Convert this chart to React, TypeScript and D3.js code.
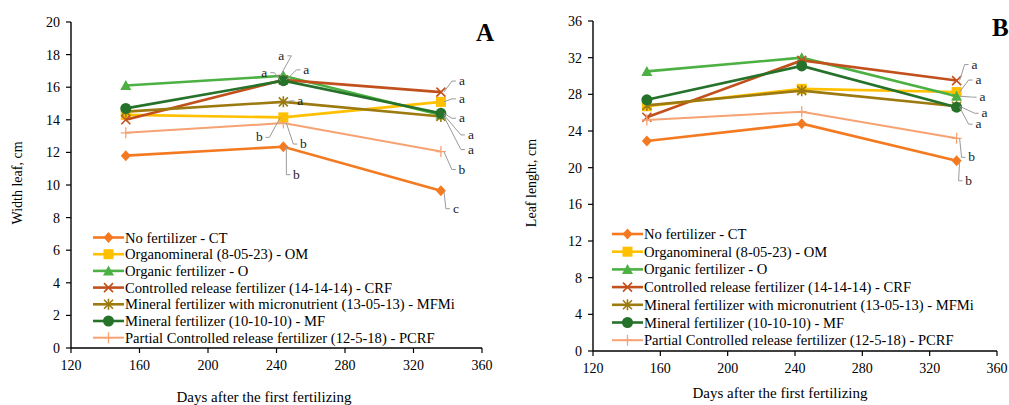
import React from "react";
import * as d3 from "d3";

// ---------- DATA ----------
const days = [152, 244, 336];
const seriesNames = [
  "No fertilizer - CT",
  "Organomineral (8-05-23) - OM",
  "Organic fertilizer - O",
  "Controlled release fertilizer (14-14-14) - CRF",
  "Mineral fertilizer with micronutrient (13-05-13) - MFMi",
  "Mineral fertilizer (10-10-10) - MF",
  "Partial Controlled release fertilizer (12-5-18) - PCRF",
];
const seriesKeys = ["CT", "OM", "O", "CRF", "MFMi", "MF", "PCRF"];

// Panel A: width leaf (cm)
const widthCT = [11.8, 12.35, 9.65];
const widthOM = [14.3, 14.15, 15.1];
const widthO = [16.1, 16.7, 14.3];
const widthCRF = [14.0, 16.45, 15.7];
const widthMFMi = [14.5, 15.1, 14.2];
const widthMF = [14.7, 16.4, 14.4];
const widthPCRF = [13.2, 13.8, 12.05];

// Panel B: leaf length (cm)
const lengthCT = [22.9, 24.8, 20.75];
const lengthOM = [26.7, 28.6, 28.25];
const lengthO = [30.5, 32.0, 27.8];
const lengthCRF = [25.5, 31.7, 29.5];
const lengthMFMi = [26.8, 28.4, 26.7];
const lengthMF = [27.4, 31.1, 26.6];
const lengthPCRF = [25.2, 26.1, 23.2];

const xTicks = [120, 160, 200, 240, 280, 320, 360];
const yTicksA = [0, 2, 4, 6, 8, 10, 12, 14, 16, 18, 20];
const yTicksB = [0, 4, 8, 12, 16, 20, 24, 28, 32, 36];

// significance letters: [seriesIndex, pointIndex, letter]
const lettersA: [number, number, string][] = [
  [2, 1, "a"], [5, 1, "a"], [3, 1, "a"], [4, 1, "a"], [1, 1, "b"], [6, 1, "b"], [0, 1, "b"],
  [3, 2, "a"], [1, 2, "a"], [5, 2, "a"], [2, 2, "a"], [4, 2, "a"], [6, 2, "b"], [0, 2, "c"],
];
const lettersB: [number, number, string][] = [
  [3, 2, "a"], [1, 2, "a"], [2, 2, "a"], [4, 2, "a"], [5, 2, "a"], [6, 2, "b"], [0, 2, "b"],
];

// ---------- STYLE / LAYOUT ----------
const colors = ["#F47A22", "#FFC000", "#4CB043", "#C2501C", "#9C7A10", "#26722A", "#F6A272"];
const FONT = "'Liberation Serif', 'Times New Roman', serif";

// label offsets (px) relative to the annotated point, per letter entry
const offsA: [number, number][] = [
  [-2, -20], [-19, -8], [23, -10], [17, -1], [-24, 20], [20, 21], [13, 28],
  [21, -11], [21, -3], [21, 5], [30, 20], [30, 33], [21, 18], [15, 18],
];
const offsB: [number, number][] = [
  [18, -16], [22, -12], [26, 1], [28, 7], [22, 17], [15, 19], [12, 20],
];

type Panel = {
  x0: number; x1: number; yTop: number; yBot: number;
  yMax: number; yTicks: number[]; data: number[][];
  yLabel: string; yLabelX: number; letter: string; letterX: number; letterY: number;
  legendX: number; legendY: number; legendStep: number;
  xTitleX: number; xTitleY: number;
  letters: [number, number, string][]; offs: [number, number][];
};

const panels: Panel[] = [
  {
    x0: 71, x1: 482, yTop: 22, yBot: 348, yMax: 20, yTicks: yTicksA,
    data: [widthCT, widthOM, widthO, widthCRF, widthMFMi, widthMF, widthPCRF],
    yLabel: "Width leaf, cm", yLabelX: 22, letter: "A", letterX: 476, letterY: 41,
    legendX: 93, legendY: 237.5, legendStep: 16.7, xTitleX: 264, xTitleY: 402,
    letters: lettersA, offs: offsA,
  },
  {
    x0: 593, x1: 997, yTop: 21, yBot: 351, yMax: 36, yTicks: yTicksB,
    data: [lengthCT, lengthOM, lengthO, lengthCRF, lengthMFMi, lengthMF, lengthPCRF],
    yLabel: "Leaf lenght, cm", yLabelX: 536, letter: "B", letterX: 992, letterY: 36,
    legendX: 612, legendY: 234, legendStep: 17.7, xTitleX: 780, xTitleY: 398,
    letters: lettersB, offs: offsB,
  },
];

function Marker({ k, color, x, y }: { k: string; color: string; x: number; y: number }) {
  const t = `translate(${x},${y})`;
  switch (k) {
    case "CT":
      return <path transform={t} d="M0,-5.5L5,0L0,5.5L-5,0Z" fill={color} />;
    case "OM":
      return <rect transform={t} x={-5} y={-5} width={10} height={10} fill={color} />;
    case "O":
      return <path transform={t} d="M0,-5.5L5.5,4.5L-5.5,4.5Z" fill={color} />;
    case "CRF":
      return <path transform={t} d="M-4.5,-4.5L4.5,4.5M-4.5,4.5L4.5,-4.5" stroke={color} strokeWidth={1.6} fill="none" />;
    case "MFMi":
      return <path transform={t} d="M-4.5,-4.5L4.5,4.5M-4.5,4.5L4.5,-4.5M0,-5.5L0,5.5" stroke={color} strokeWidth={1.6} fill="none" />;
    case "MF":
      return <circle cx={x} cy={y} r={5.5} fill={color} />;
    default:
      return <path transform={t} d="M-5,0L5,0M0,-5.5L0,5.5" stroke={color} strokeWidth={1.3} fill="none" />;
  }
}

function PanelView({ p }: { p: Panel }) {
  const x = d3.scaleLinear().domain([120, 360]).range([p.x0, p.x1]);
  const y = d3.scaleLinear().domain([0, p.yMax]).range([p.yBot, p.yTop]);
  const line = d3.line<number>().x((_, i) => x(days[i])).y((v) => y(v));
  return (
    <g>
      {/* axes */}
      <line x1={p.x0} x2={p.x0} y1={p.yTop} y2={p.yBot} stroke="#000" strokeWidth={1.4} />
      <line x1={p.x0} x2={p.x1} y1={p.yBot} y2={p.yBot} stroke="#000" strokeWidth={1.4} />
      {p.yTicks.map((t) => (
        <g key={"y" + t}>
          <line x1={p.x0 - 5} x2={p.x0} y1={y(t)} y2={y(t)} stroke="#000" strokeWidth={1.2} />
          <text x={p.x0 - 11} y={y(t) + 5} textAnchor="end" fontSize={14} fontFamily={FONT}>{t}</text>
        </g>
      ))}
      {xTicks.map((t) => (
        <g key={"x" + t}>
          <line x1={x(t)} x2={x(t)} y1={p.yBot} y2={p.yBot + 5} stroke="#000" strokeWidth={1.2} />
          <text x={x(t)} y={p.yBot + 22} textAnchor="middle" fontSize={14} fontFamily={FONT}>{t}</text>
        </g>
      ))}
      <text transform={`translate(${p.yLabelX},183) rotate(-90)`} textAnchor="middle" fontSize={14} fontFamily={FONT}>{p.yLabel}</text>
      <text x={p.xTitleX} y={p.xTitleY} textAnchor="middle" fontSize={15} fontFamily={FONT}>Days after the first fertilizing</text>
      <text x={p.letterX} y={p.letterY} fontSize={25} fontWeight="bold" fontFamily={FONT}>{p.letter}</text>

      {/* series */}
      {p.data.map((vals, si) => (
        <g key={"s" + si}>
          <path d={line(vals) || ""} fill="none" stroke={colors[si]} strokeWidth={si === 6 ? 2 : 2.6} />
          {vals.map((v, i) => (
            <Marker key={i} k={seriesKeys[si]} color={colors[si]} x={x(days[i])} y={y(v)} />
          ))}
        </g>
      ))}

      {/* significance letters */}
      {p.letters.map(([si, pi, l], i) => {
        const px = x(days[pi]);
        const py = y(p.data[si][pi]);
        const [dx, dy] = p.offs[i];
        const lx = px + dx;
        const ly = py + dy;
        const side = dx >= 0 ? -1 : 1;
        const ex = lx + side * 6;
        const ey = ly;
        const cx = lx + side * 10;
        return (
          <g key={"l" + i}>
            <path d={`M${px + (dx >= 0 ? 3 : -3)},${py}L${cx},${ey}L${ex},${ey}`} fill="none" stroke="#9a9a9a" strokeWidth={1} />
            <text x={lx} y={ly + 4} textAnchor="middle" fontSize={13.5} fontFamily={FONT} fill="#222">{l}</text>
          </g>
        );
      })}

      {/* legend */}
      {seriesNames.map((name, si) => {
        const ly = p.legendY + si * p.legendStep;
        return (
          <g key={"lg" + si}>
            <line x1={p.legendX} x2={p.legendX + 31} y1={ly} y2={ly} stroke={colors[si]} strokeWidth={si === 6 ? 2 : 2.6} />
            <Marker k={seriesKeys[si]} color={colors[si]} x={p.legendX + 15.5} y={ly} />
            <text x={p.legendX + 32} y={ly + 5} fontSize={14.6} fontFamily={FONT}>{name}</text>
          </g>
        );
      })}
    </g>
  );
}

export default function App() {
  return (
    <svg width={1009} height={405} style={{ position: "absolute", left: 0, top: 0, background: "#fff" }}>
      <rect width={1009} height={405} fill="#fff" />
      {panels.map((p, i) => (
        <PanelView key={i} p={p} />
      ))}
    </svg>
  );
}
